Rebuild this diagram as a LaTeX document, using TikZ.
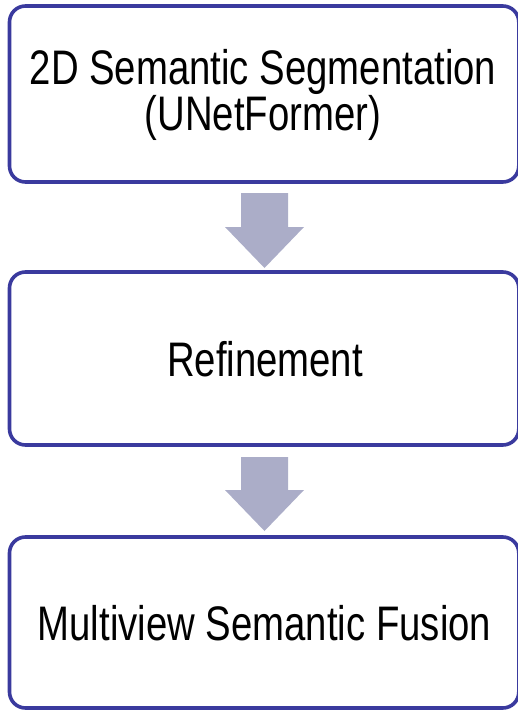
\documentclass[tikz,border=0pt]{standalone}
\usepackage{fontspec}
\setmainfont{Liberation Sans}[FakeStretch=0.79]
\usetikzlibrary{calc}
\definecolor{boxline}{HTML}{3A3A9E}
\definecolor{arrowfill}{HTML}{ABADC8}
\begin{document}
\begin{tikzpicture}[x=1bp,y=-1bp,
  stage/.style={draw=boxline,line width=3.6bp,rounded corners=16bp,fill=white},
  label/.style={align=center,font=\fontsize{48.5bp}{45bp}\selectfont,inner sep=0pt},
  blockarrow/.style={fill=arrowfill,draw=none}]
\useasboundingbox (0,0) rectangle (518,712);
% boxes
\draw[stage] (9.5,6) rectangle (518.8,182);
\draw[stage] (9.5,272) rectangle (518.8,445);
\draw[stage] (9.5,537) rectangle (518.8,708);
\coordinate (b1) at (263,95);
\coordinate (b2) at (265,359);
\coordinate (b3) at (264.5,623);
\node[label] (t1) at (b1) {2D Semantic Segmentation\\(UNetFormer)};
\node[label] (t2) at (b2) {Refinement};
\node[label] (t3) at (b3) {Multiview Semantic Fusion};
% block arrows
\fill[blockarrow] (241,193) -- (288,193) -- (288,227) -- (304,227) -- (264.5,268) -- (225,227) -- (241,227) -- cycle;
\fill[blockarrow] (241,457) -- (288,457) -- (288,490) -- (304,490) -- (264.5,531) -- (225,490) -- (241,490) -- cycle;
\end{tikzpicture}
\end{document}
